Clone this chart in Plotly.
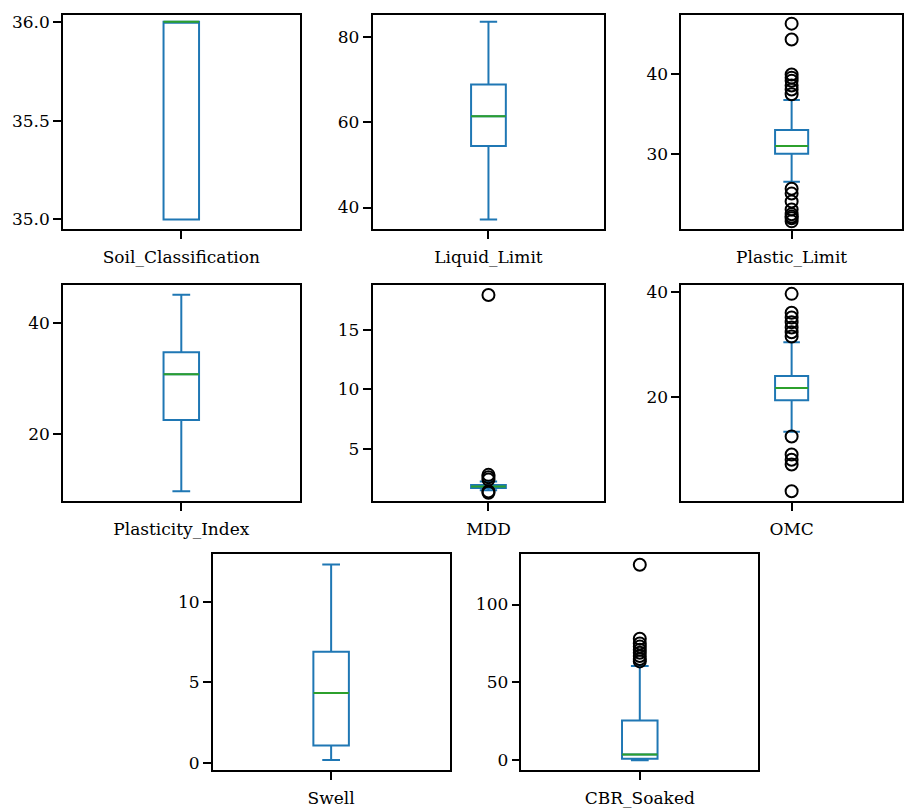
import plotly.graph_objects as go

# Summary statistics per soil property
names = ["Soil_Classification", "Liquid_Limit", "Plastic_Limit",
         "Plasticity_Index", "MDD", "OMC", "Swell", "CBR_Soaked"]
q1 = [35.0, 54.4, 30.0, 22.5, 1.70, 19.4, 1.1, 1.0]
median = [36.0, 61.4, 31.0, 30.8, 1.83, 21.7, 4.35, 3.8]
q3 = [36.0, 68.8, 33.0, 34.8, 1.95, 24.0, 6.9, 25.5]
lower_whisker = [35.0, 37.2, 26.5, 9.55, 1.50, 13.4, 0.2, 0.0]
upper_whisker = [36.0, 83.5, 36.8, 45.2, 2.25, 30.4, 12.3, 60.5]

# Flier points beyond the whiskers
outliers = [
    [],
    [],
    [46.4, 44.4, 40.0, 39.6, 39.2, 38.6, 38.1, 37.5,
     25.6, 25.0, 24.0, 23.0, 22.4, 22.1, 21.9, 21.5],
    [],
    [17.9, 2.4, 2.6, 2.8, 1.4, 1.3],
    [39.6, 36.0, 35.1, 34.2, 33.2, 32.3, 31.5,
     12.5, 9.1, 8.1, 7.2, 2.1],
    [],
    [125.5, 78.0, 75.0, 73.0, 71.0, 69.0, 67.0, 65.0, 63.5],
]

# Axis ranges and ticks
y_ranges = [[34.95, 36.035], [34.9, 85.1], [20.5, 47.5], [7.75, 47.0],
            [0.58, 18.75], [0.2, 41.3], [-0.43, 12.95], [-6.4, 132.5]]
y_ticks = [[35.0, 35.5, 36.0], [40, 60, 80], [30, 40], [20, 40],
           [5, 10, 15], [20, 40], [0, 5, 10], [0, 50, 100]]
y_formats = [".1f", "", "", "", "", "", "", ""]

# Panel placement in pixels: (left, right, top, bottom)
W, H = 904, 810
panels = [
    (63, 300, 12, 228), (373, 605, 12, 228), (682, 903, 12, 228),
    (63, 300, 284, 502), (373, 605, 284, 502), (682, 903, 284, 502),
    (213, 450, 555, 773), (522, 759, 555, 773),
]

BLUE = "#1f77b4"
GREEN = "#2ca02c"
BOX_W = 0.15
FONT = "DejaVu Serif"
FONT_SIZE = 17

fig = go.Figure()
layout = dict(
    width=W, height=H, margin=dict(l=0, r=0, t=0, b=0),
    paper_bgcolor="white", plot_bgcolor="white", showlegend=False,
    font=dict(family=FONT, size=FONT_SIZE, color="black"),
)

for i, name in enumerate(names):
    n = i + 1
    xa = "x" if n == 1 else f"x{n}"
    ya = "y" if n == 1 else f"y{n}"

    fig.add_trace(go.Box(
        x=[1], q1=[q1[i]], median=[median[i]], q3=[q3[i]],
        lowerfence=[lower_whisker[i]], upperfence=[upper_whisker[i]],
        width=BOX_W, whiskerwidth=0.5, boxpoints=False,
        line=dict(color=BLUE, width=2), fillcolor="rgba(0,0,0,0)",
        xaxis=xa, yaxis=ya, hoverinfo="skip",
    ))
    fig.add_trace(go.Scatter(
        x=[1 - BOX_W / 2, 1 + BOX_W / 2], y=[median[i], median[i]],
        mode="lines", line=dict(color=GREEN, width=2),
        xaxis=xa, yaxis=ya, hoverinfo="skip",
    ))
    if outliers[i]:
        fig.add_trace(go.Scatter(
            x=[1] * len(outliers[i]), y=outliers[i], mode="markers",
            marker=dict(symbol="circle-open", size=12, color="black",
                        line=dict(width=2, color="black")),
            xaxis=xa, yaxis=ya, hoverinfo="skip", cliponaxis=False,
        ))

    l, r, t, b = panels[i]
    axis_common = dict(
        showline=True, mirror=True, linecolor="black", linewidth=1.5,
        showgrid=False, zeroline=False, ticks="outside", ticklen=8,
        tickwidth=1.5, tickcolor="black",
        tickfont=dict(family=FONT, size=FONT_SIZE, color="black"),
    )
    xkey = "xaxis" if n == 1 else f"xaxis{n}"
    ykey = "yaxis" if n == 1 else f"yaxis{n}"
    layout[xkey] = dict(
        domain=[l / W, r / W], range=[0.5, 1.5], anchor=ya,
        tickmode="array", tickvals=[1], ticktext=[name],
        ticklabelstandoff=4, **axis_common,
    )
    layout[ykey] = dict(
        domain=[1 - b / H, 1 - t / H], range=y_ranges[i], anchor=xa,
        tickmode="array", tickvals=y_ticks[i], tickformat=y_formats[i],
        **axis_common,
    )

fig.update_layout(**layout)
fig.write_html("out.html")
